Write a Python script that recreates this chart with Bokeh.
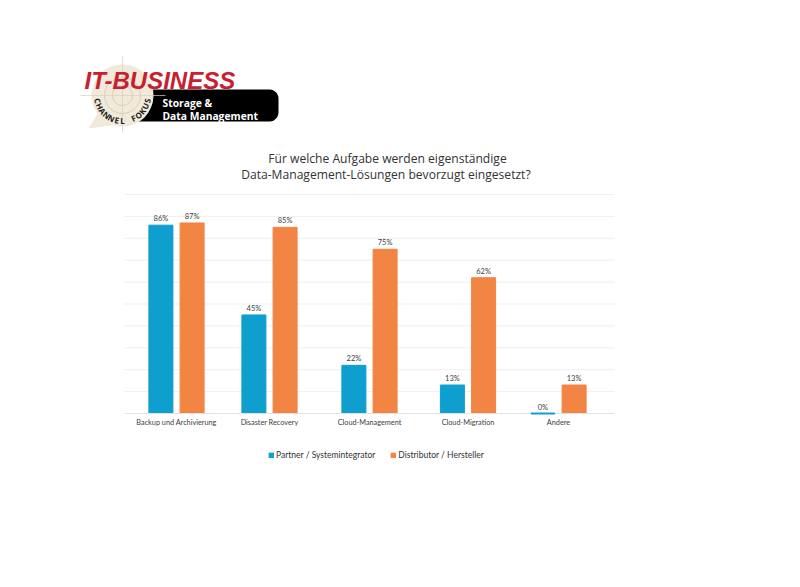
import math
from bokeh.plotting import figure
from bokeh.models import (ColumnDataSource, FixedTicker, Legend, LegendItem, LinearAxis,
                          Range1d)
from bokeh.core.properties import value
from bokeh.embed import file_html
from bokeh.resources import INLINE

categories = ["Backup und Archivierung", "Disaster Recovery", "Cloud-Management", "Cloud-Migration", "Andere"]
partner = [86, 45, 22, 13, 0]
distributor = [87, 85, 75, 62, 13]
series_names = ["Partner / Systemintegrator", "Distributor / Hersteller"]
title_lines = ["Für welche Aufgabe werden eigenständige", "Data-Management-Lösungen  bevorzugt eingesetzt?"]
grid_values = [0, 10, 20, 30, 40, 50, 60, 70, 80, 90, 100]

# layout (page pixels)
centers = [176, 269, 369, 467.5, 558]
offset, bar_w = 15.6, 24
BLUE, ORANGE = "#0e9fce", "#f28444"
FONT = "Lato"
TITLE_FONT = "Open Sans"
y0_px, y100_px = 413.0, 194.0
ppu = (y0_px - y100_px) / 100
y_of = lambda py: (y0_px - py) / ppu

p = figure(width=784, height=571, output_backend="svg", toolbar_location=None,
           x_range=Range1d(0, 784), y_range=Range1d(y_of(571), y_of(0)),
           x_axis_type=None, y_axis_type=None, min_border=0, outline_line_color=None,
           background_fill_color="white", border_fill_color="white")
p.extra_y_ranges = {"page": Range1d(571, 0)}

p.ygrid.visible = False
p.xgrid.visible = False
for g in grid_values[1:]:
    p.segment(x0=[124], x1=[614], y0=[g], y1=[g], line_color="#efefef", line_width=1)

src_a = ColumnDataSource(dict(x=[c - offset for c in centers], top=partner,
                              label=[f"{v}%" for v in partner]))
src_b = ColumnDataSource(dict(x=[c + offset for c in centers], top=distributor,
                              label=[f"{v}%" for v in distributor]))
r_a = p.vbar(x="x", top="top", bottom=0, width=bar_w, source=src_a, fill_color=BLUE, line_color=BLUE, line_width=1)
r_b = p.vbar(x="x", top="top", bottom=0, width=bar_w, source=src_b, fill_color=ORANGE, line_color=ORANGE, line_width=1)
for s in (src_a, src_b):
    p.text(x="x", y="top", text="label", source=s, text_align="center", text_baseline="bottom",
           y_offset=-2, text_font_size="7.5px", text_color="#404040", text_font=value(FONT))

axis = LinearAxis(fixed_location=0, bounds=(124, 614), ticker=FixedTicker(ticks=centers),
                  major_label_overrides=dict(zip(centers, categories)),
                  major_tick_line_color=None, minor_tick_line_color=None,
                  axis_line_color="#e2e2e2", major_label_text_font=FONT,
                  major_label_text_font_size="7.3px", major_label_text_color="#404040",
                  major_label_standoff=-2)
p.add_layout(axis, "below")

# a zero value still shows as a thin line on the baseline
zero_x = [c - offset for c, v in zip(centers, partner) if v == 0]
zero_y = [v for v in partner if v == 0]
p.segment(x0=[x - bar_w / 2 for x in zero_x], x1=[x + bar_w / 2 for x in zero_x], y0=zero_y, y1=zero_y,
          line_color=BLUE, line_width=2, level="overlay")

for line, yy in zip(title_lines, [158, 174]):
    p.text(x=[387], y=[yy], text=[line], y_range_name="page", text_align="center", text_baseline="middle",
           text_font_size="12.1px", text_color="#333333", text_font=value(TITLE_FONT))

legend = Legend(items=[LegendItem(label=series_names[0], renderers=[r_a]),
                       LegendItem(label=series_names[1], renderers=[r_b])],
                orientation="horizontal", location=(265, 111), background_fill_alpha=0,
                border_line_color=None, glyph_width=6, glyph_height=6, padding=4, margin=0,
                spacing=15, label_standoff=2, label_text_font=FONT, label_text_font_size="8.5px",
                label_text_color="#333333")
legend.location = (268, 111)
p.add_layout(legend, "center")

# logo, drawn in page pixels
page = dict(y_range_name="page")
R = 9
arc = [(278 - R + R * math.cos(math.radians(t)), 89 + R + R * math.sin(math.radians(t))) for t in range(-90, 1, 15)]
arc += [(278 - R + R * math.cos(math.radians(t)), 121 - R + R * math.sin(math.radians(t))) for t in range(0, 91, 15)]
p.patch(x=[130] + [a[0] for a in arc] + [130], y=[89] + [a[1] for a in arc] + [121],
        fill_color="black", line_color=None, **page)
p.circle(x=[122], y=[95], radius=31, fill_color="#f1e9da", line_color=None, **page)
p.patch(x=[98, 88, 118], y=[112, 128, 124], fill_color="#f1e9da", line_color=None, **page)
p.circle(x=[122], y=[95], radius=18, fill_color=None, line_color="#dccfb8", line_width=1, **page)
p.circle(x=[122], y=[95], radius=10, fill_color=None, line_color="#dccfb8", line_width=1, **page)
p.segment(x0=[80, 122], y0=[95, 56], x1=[165, 122], y1=[95, 132], line_color="#dccfb8", line_width=0.7, **page)
p.text(x=[84], y=[80], text=["IT-BUSINESS"], text_font=value("Liberation Sans"),
       text_font_style="bold italic", text_font_size="24px", text_color="#c8202f",
       text_baseline="middle", **page)
for t, yy in zip(["Storage &", "Data Management"], [102, 115.5]):
    p.text(x=[162], y=[yy], text=[t], text_font=value(TITLE_FONT), text_font_style="bold", text_font_size="10.3px",
           text_color="white", text_baseline="middle", **page)
word = "CHANNEL FOKUS"
for i, ch in enumerate(word):
    a = math.radians(168 - i * 156 / (len(word) - 1))
    p.text(x=[122 + 25 * math.cos(a)], y=[95 + 25 * math.sin(a)], text=[ch], angle=[math.pi / 2 - a],
           text_align="center", text_baseline="middle", text_font=value(TITLE_FONT), text_font_style="bold",
           text_font_size="8px", text_color="#222222", **page)

open("out.html", "w").write(file_html(p, INLINE))
